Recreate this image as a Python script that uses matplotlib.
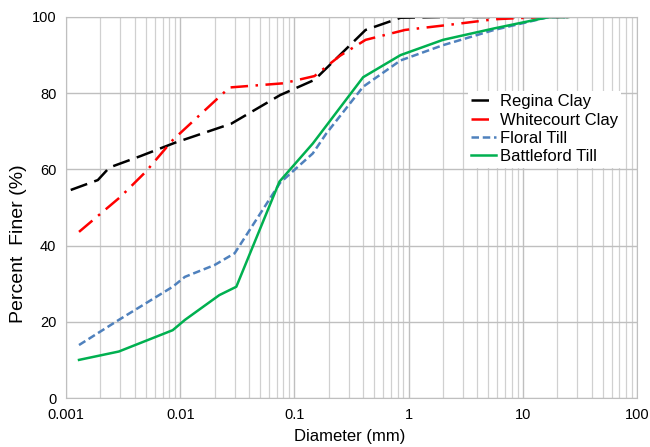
import matplotlib.pyplot as plt
from matplotlib.ticker import LogLocator, FixedLocator, NullFormatter

plt.rcParams['font.family'] = ['Liberation Sans', 'DejaVu Sans']

# grain size curves, diameter (mm) vs percent finer
regina_d = [0.0011, 0.0019, 0.0024, 0.0045, 0.009, 0.028, 0.075, 0.15, 0.25, 0.42, 0.85, 2, 25]
regina_p = [54.6, 57.2, 60.5, 63.5, 67.0, 72.0, 79.5, 83.5, 90.0, 96.6, 99.8, 100, 100]

white_d = [0.0013, 0.003, 0.005, 0.0086, 0.027, 0.08, 0.15, 0.25, 0.42, 0.93, 2.2, 5.6, 15, 25]
white_p = [43.6, 52.8, 59.4, 67.7, 81.5, 82.6, 84.5, 89.8, 94.0, 96.6, 97.9, 99.4, 100, 100]

floral_d = [0.0013, 0.0029, 0.0086, 0.011, 0.02, 0.03, 0.075, 0.145, 0.19, 0.4, 0.85, 2, 5.6, 17, 25]
floral_p = [13.9, 20.5, 29.2, 31.8, 34.9, 38.0, 56.5, 64.2, 69.4, 81.7, 88.6, 92.6, 96.6, 100, 100]

battle_d = [0.0013, 0.0029, 0.0086, 0.011, 0.022, 0.031, 0.074, 0.145, 0.4, 0.85, 2, 5.6, 17, 25]
battle_p = [10.0, 12.2, 17.8, 20.5, 27.0, 29.2, 56.8, 66.8, 84.2, 90.0, 94.0, 97.0, 100, 100]

dpi = 100
fig = plt.figure(figsize=(650 / dpi, 447 / dpi), dpi=dpi)
ax = fig.add_axes([66 / 650, 1 - 398 / 447, (637 - 66) / 650, (398 - 17) / 447])

ax.plot(regina_d, regina_p, color='black', lw=1.8, dashes=(7, 3), label='Regina Clay')
ax.plot(white_d, white_p, color='#ff0000', lw=1.8, dashes=(7, 3, 1, 3), label='Whitecourt Clay')
ax.plot(floral_d, floral_p, color='#4f81bd', lw=1.8, dashes=(3, 1.5), label='Floral Till')
ax.plot(battle_d, battle_p, color='#00b050', lw=1.8, label='Battleford Till')

ax.set_xscale('log')
ax.set_xlim(0.001, 100)
ax.set_ylim(0, 100)
ax.xaxis.set_major_locator(FixedLocator([0.001, 0.01, 0.1, 1, 10, 100]))
ax.set_xticklabels(['0.001', '0.01', '0.1', '1', '10', '100'])
ax.xaxis.set_minor_locator(LogLocator(base=10, subs=range(2, 10)))
ax.xaxis.set_minor_formatter(NullFormatter())
ax.set_yticks([0, 20, 40, 60, 80, 100])

ax.grid(True, which='major', color='#bfbfbf', lw=1.0)
ax.grid(True, which='minor', axis='x', color='#d0d0d0', lw=0.9)
ax.set_axisbelow(True)
for s in ax.spines.values():
    s.set_color('#bfbfbf')
ax.tick_params(which='both', length=0, labelsize=10.5, pad=7)

ax.set_xlabel('Diameter (mm)', fontsize=12)
ax.xaxis.set_label_coords(0.497, -0.082)
ax.set_ylabel('Percent  Finer (%)', fontsize=14)
ax.yaxis.set_label_coords(-0.068, 0.405)

leg = ax.legend(loc='upper left', bbox_to_anchor=(0.704, 0.806), frameon=True, fancybox=False,
                edgecolor='none', framealpha=1, fontsize=12, handlelength=1.5,
                handletextpad=0.2, labelspacing=0.2, borderpad=0.2, borderaxespad=0)

fig.savefig('out.png', dpi=dpi)
